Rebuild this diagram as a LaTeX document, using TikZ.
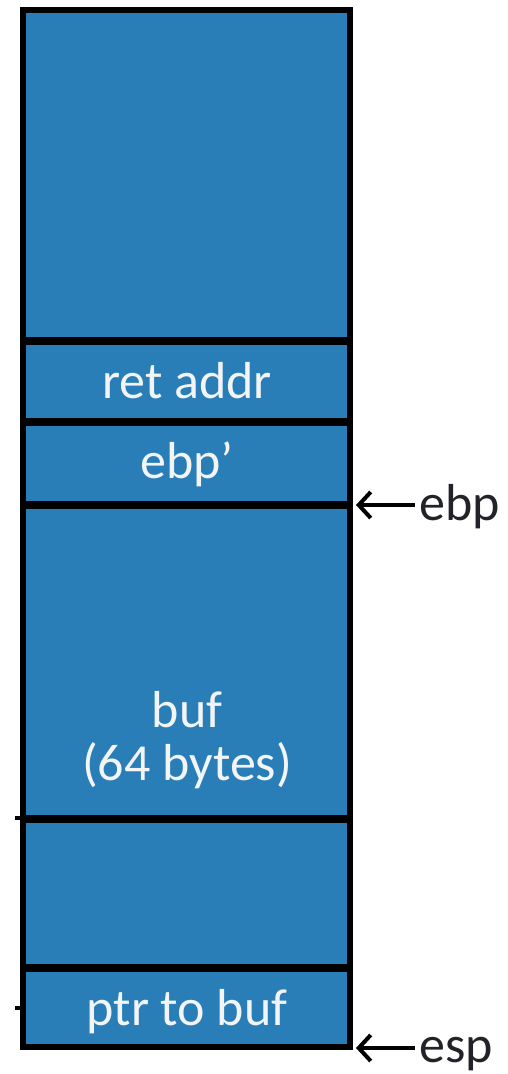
\documentclass[tikz,border=0pt]{standalone}
\usepackage{fontspec}
\setmainfont{Carlito}
\usetikzlibrary{arrows.meta}
\definecolor{cellblue}{RGB}{42,126,183}
\definecolor{celltext}{RGB}{242,244,246}
\definecolor{lbltext}{RGB}{34,34,40}
\tikzset{
  cell/.style={draw=black, line width=6pt, fill=cellblue, rectangle, inner sep=0pt, outer sep=0pt, minimum width=327pt},
  celllabel/.style={text=celltext, anchor=base, inner sep=0pt, font=\fontsize{52}{53}\selectfont, align=center},
  reglabel/.style={text=lbltext, anchor=base west, inner sep=0pt, font=\fontsize{52}{53}\selectfont},
  ptrarrow/.style={draw=black, line width=4pt, -{Straight Barb[length=12pt,width=26pt,line width=4pt]}},
  tick/.style={draw=black, line width=4pt}
}
\begin{document}
\begin{tikzpicture}[x=1pt,y=-1pt]
\path[use as bounding box] (0,0) rectangle (508,1074);
\node[cell, minimum height=330pt] (top) at (186.5,175) {};
\node[cell, minimum height=79pt] (ret) at (186.5,381.5) {};
\node[cell, minimum height=80.5pt] (oldebp) at (186.5,463.25) {};
\node[cell, minimum height=312pt] (buf) at (186.5,661.5) {};
\node[cell, minimum height=147pt] (pad) at (186.5,893) {};
\node[cell, minimum height=78.5pt] (ptr) at (186.5,1007.75) {};
\node[celllabel] (rett) at (187,398) {ret addr};
\node[celllabel] (ebpt) at (187,478) {ebp’};
\node[celllabel] (buft) at (187,780) {buf\\(64 bytes)};
\node[celllabel] (ptrt) at (187,1025) {ptr to buf};
\node[reglabel] (ebplbl) at (419,520) {ebp};
\node[reglabel] (esplbl) at (419,1062) {esp};
\coordinate (ebpfrom) at (415,505);
\coordinate (ebpto) at (356,505);
\coordinate (espfrom) at (415,1048);
\coordinate (espto) at (356,1048);
\draw[ptrarrow] (ebpfrom) -- (ebpto);
\draw[ptrarrow] (espfrom) -- (espto);
\coordinate (t1a) at (15,818);
\coordinate (t1b) at (21,818);
\coordinate (t2a) at (15,1008);
\coordinate (t2b) at (21,1008);
\draw[tick] (t1a) -- (t1b);
\draw[tick] (t2a) -- (t2b);
\end{tikzpicture}
\end{document}
